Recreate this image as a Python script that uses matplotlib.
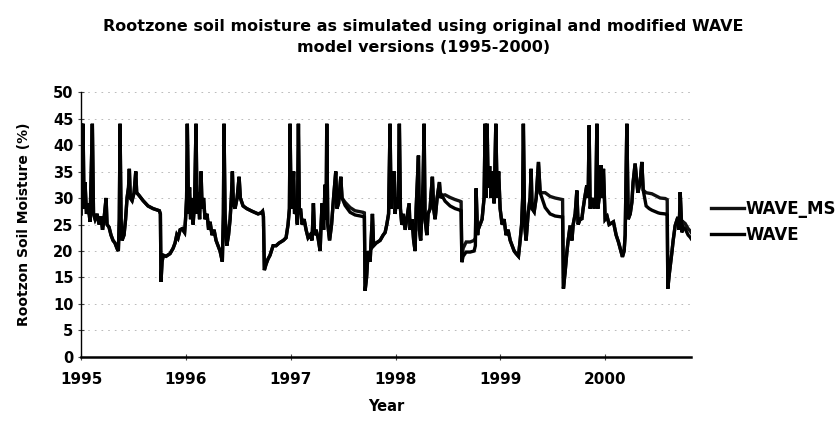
import matplotlib
matplotlib.use("Agg")
import matplotlib.pyplot as plt

# ---- data (decimal years, soil moisture %) ----
# shared stretches (both model versions coincide)
y1995_t = [1995.000, 1995.005, 1995.012, 1995.019, 1995.029, 1995.038, 1995.052, 1995.067, 1995.086, 1995.108,
           1995.119, 1995.134, 1995.153, 1995.172, 1995.191, 1995.205, 1995.219, 1995.239, 1995.248, 1995.267,
           1995.286, 1995.305, 1995.324, 1995.343, 1995.356, 1995.365, 1995.372, 1995.382, 1995.391, 1995.410,
           1995.425, 1995.439, 1995.453, 1995.461, 1995.470, 1995.487, 1995.506, 1995.522, 1995.531, 1995.553,
           1995.592, 1995.639, 1995.687, 1995.747, 1995.757, 1995.763, 1995.773, 1995.785, 1995.811, 1995.849,
           1995.878, 1995.897, 1995.913, 1995.926, 1995.945, 1995.964, 1995.988, 1995.997]
y1995_v = [27, 44, 30, 44, 28, 33, 27, 29, 25.5, 44,
           27, 26, 27, 25, 26.5, 24, 26, 30, 25, 24.5,
           23, 22, 21.5, 20.5, 20, 26, 44, 26, 22, 23,
           26, 30, 32, 35.5, 30, 29.5, 31, 35, 31, 30.5,
           29.5, 28.5, 28, 27.6, 27, 14.2, 18, 19.2, 19, 19.5,
           20.5, 21.5, 23, 22.5, 24, 24.2, 23.5, 26]

y1996_t = [1996.007, 1996.014, 1996.026, 1996.035, 1996.045, 1996.059, 1996.069, 1996.083, 1996.097, 1996.107,
           1996.116, 1996.131, 1996.145, 1996.155, 1996.169, 1996.183, 1996.202, 1996.217, 1996.231, 1996.250,
           1996.269, 1996.288, 1996.307, 1996.326, 1996.348, 1996.358, 1996.364, 1996.374, 1996.390, 1996.407,
           1996.422, 1996.434, 1996.444, 1996.453, 1996.469, 1996.489, 1996.508, 1996.520, 1996.546, 1996.581,
           1996.632, 1996.689, 1996.718, 1996.732, 1996.740, 1996.749, 1996.765, 1996.784, 1996.803, 1996.832,
           1996.861, 1996.889, 1996.930, 1996.956, 1996.975]
y1996_v = [30, 44, 27, 32, 26, 30, 25, 29, 44, 27,
           31, 26, 35, 28, 30, 26, 27, 24, 25.5, 23,
           24, 22, 21, 20, 18, 27, 44, 27, 21, 23,
           26, 30, 35, 29, 28, 30, 34, 30, 28.5, 28,
           27.5, 27, 27.2, 27.5, 26.5, 16.4, 17.5, 18.5, 19.2, 21,
           21, 21.5, 22, 22.5, 25]

y1997_t = [1996.988, 1996.994, 1997.004, 1997.018, 1997.028, 1997.037, 1997.052, 1997.064, 1997.074, 1997.083,
           1997.094, 1997.109, 1997.128, 1997.147, 1997.166, 1997.185, 1997.204, 1997.217, 1997.228, 1997.242,
           1997.261, 1997.281, 1997.290, 1997.300, 1997.314, 1997.328, 1997.338, 1997.344, 1997.354, 1997.371,
           1997.390, 1997.409, 1997.430, 1997.441, 1997.457, 1997.478, 1997.490]
y1997_v = [28, 44, 28, 30, 35, 27, 28, 25, 44, 27,
           28, 25, 26, 24, 22.5, 23, 22, 29, 23, 24,
           22.5, 20, 25, 29, 24, 32.5, 26, 44, 25, 22,
           25, 30, 35, 28, 29, 34, 30]
rec1997_t = [1997.519, 1997.567, 1997.614, 1997.691, 1997.703]
rec1997_ms = [29.2, 28.2, 27.6, 27.3, 27.2]
rec1997_wave = [28.6, 27.3, 26.8, 26.5, 26.4]

y1998_t = [1997.710, 1997.724, 1997.739, 1997.758, 1997.780, 1997.791, 1997.815, 1997.853, 1997.882, 1997.901,
           1997.917, 1997.934, 1997.948, 1997.958, 1997.968, 1997.977, 1997.987, 1997.996, 1998.010, 1998.025,
           1998.037, 1998.047, 1998.060, 1998.073, 1998.092, 1998.111, 1998.130, 1998.139, 1998.158, 1998.173,
           1998.187, 1998.197, 1998.206, 1998.219, 1998.228, 1998.240, 1998.254, 1998.263, 1998.273, 1998.282,
           1998.299, 1998.311, 1998.330, 1998.340, 1998.352, 1998.364, 1998.378, 1998.397, 1998.419, 1998.430,
           1998.442]
y1998_v = [12.5, 15, 20, 18, 27, 21, 21.5, 22, 23, 23.5,
           25, 27, 44, 28, 35, 30, 35, 27, 30, 28,
           44, 28, 25, 27, 24, 26.5, 29, 24, 26, 22,
           20, 28, 32, 38, 24, 22, 28, 33, 44, 26,
           23, 27, 28, 31, 34, 28, 26, 30, 33, 30,
           30.5]
rec1998_t = [1998.473, 1998.521, 1998.569, 1998.616, 1998.626, 1998.633, 1998.645, 1998.674, 1998.712,
             1998.750, 1998.762]
rec1998_ms = [30.6, 30.1, 29.7, 29.4, 29.3, 17.9, 20.5, 21.7, 21.7, 22.0, 22.5]
rec1998_wave = [29.4, 28.5, 28.0, 27.7, 27.6, 17.9, 19.0, 19.8, 19.8, 20.0, 21.0]

y1999_t = [1998.769, 1998.783, 1998.788, 1998.807, 1998.826, 1998.845, 1998.855, 1998.865, 1998.874, 1998.884,
           1998.898, 1998.912, 1998.927, 1998.941, 1998.957, 1998.970, 1998.984, 1998.998, 1999.017, 1999.036,
           1999.055, 1999.074, 1999.094, 1999.113, 1999.132, 1999.151, 1999.173, 1999.189, 1999.203, 1999.213,
           1999.220, 1999.232, 1999.246, 1999.265, 1999.284, 1999.294, 1999.303, 1999.323, 1999.342, 1999.364,
           1999.380]
y1999_v = [31.8, 23, 24, 25, 26, 30, 44, 30, 44, 32,
           36, 30, 35, 29, 44, 30, 35, 28, 25, 26,
           23, 24, 22, 21, 20, 19.5, 19, 22, 25, 30,
           44, 25, 22, 27, 30, 35.5, 28, 27.4, 30, 36.8,
           31]
rec1999_t = [1999.428, 1999.475, 1999.523, 1999.594]
rec1999_ms = [31.0, 30.3, 30.0, 29.7]
rec1999_wave = [28.2, 27.0, 26.6, 26.4]

y2000_t = [1999.602, 1999.618, 1999.635, 1999.647, 1999.666, 1999.683, 1999.695, 1999.714, 1999.730, 1999.742,
           1999.761, 1999.778, 1999.790, 1999.809, 1999.825, 1999.838, 1999.847, 1999.857, 1999.876, 1999.895,
           1999.911, 1999.921, 1999.930, 1999.943, 1999.962, 1999.971, 1999.984, 2000.000, 2000.019, 2000.038,
           2000.079, 2000.105, 2000.127, 2000.143, 2000.165, 2000.181, 2000.191, 2000.207, 2000.220, 2000.239,
           2000.255, 2000.267, 2000.286, 2000.312, 2000.334, 2000.350, 2000.363]
y2000_v = [12.9, 16, 19.8, 22, 24.8, 22, 25, 27, 31.4, 25,
           26, 26.1, 28, 30.5, 32.4, 30, 43.7, 28, 30, 28,
           30, 44, 28, 30, 36.2, 30, 35.5, 26, 26.5, 25,
           25.5, 23, 21.7, 20.5, 18.9, 20, 23, 44, 26, 27,
           29.2, 33, 36.5, 31, 33, 36.8, 31.5]
rec2000_t = [2000.391, 2000.420, 2000.446, 2000.506, 2000.525, 2000.573, 2000.592]
rec2000_ms = [31.0, 30.9, 30.8, 30.2, 30.0, 29.9, 29.7]
rec2000_wave = [28.5, 28.0, 27.7, 27.2, 27.1, 27.0, 26.8]

end_t = [2000.598, 2000.611, 2000.637, 2000.649, 2000.668, 2000.694, 2000.706, 2000.716, 2000.732, 2000.744,
         2000.763, 2000.780, 2000.792, 2000.811, 2000.821]
end_ms = [12.9, 15.5, 19.8, 22, 24.8, 26.4, 24, 31.1, 24, 25.5, 25.2, 24.6, 24.2, 23.8, 23.5]
end_wave = [12.9, 15.5, 19.8, 22, 24.8, 26.4, 24, 31.1, 23.5, 24.5, 24.2, 23.5, 23, 22.6, 22.3]

series_names = ["WAVE_MS", "WAVE"]
x_ticks = [1995, 1996, 1997, 1998, 1999, 2000]
y_ticks = [0, 5, 10, 15, 20, 25, 30, 35, 40, 45, 50]

# ---- assemble the two series ----
ms_t = (y1995_t + y1996_t + y1997_t + rec1997_t + y1998_t + rec1998_t + y1999_t + rec1999_t
        + y2000_t + rec2000_t + end_t)
ms_v = (y1995_v + y1996_v + y1997_v + rec1997_ms + y1998_v + rec1998_ms + y1999_v + rec1999_ms
        + y2000_v + rec2000_ms + end_ms)
wave_t = ms_t
wave_v = (y1995_v + y1996_v + y1997_v + rec1997_wave + y1998_v + rec1998_wave + y1999_v + rec1999_wave
          + y2000_v + rec2000_wave + end_wave)

plt.rcParams['font.family'] = ['DejaVu Sans']
fig = plt.figure(figsize=(8.38, 4.26), dpi=100)
ax = fig.add_axes([0.0967, 0.162, 0.728, 0.622])

for yv in y_ticks[1:]:
    ax.axhline(yv, color='#b0b0b0', lw=0.6, ls=(0, (2, 6)), zorder=0)

l1, = ax.plot(ms_t, ms_v, color='#111111', lw=2.4, solid_joinstyle='miter', zorder=3)
l2, = ax.plot(wave_t, wave_v, color='black', lw=2.4, solid_joinstyle='miter', zorder=3)

ax.set_xlim(1995, 2000.82)
ax.set_ylim(0, 50)
ax.set_xticks(x_ticks)
ax.set_xticklabels([str(v) for v in x_ticks], fontweight='bold', fontsize=11)
ax.set_yticks(y_ticks)
ax.set_yticklabels([str(v) for v in y_ticks], fontweight='bold', fontsize=10.5)
ax.tick_params(axis='both', direction='inout', length=5, width=0.8, color='#444444')
ax.tick_params(axis='x', pad=8)
ax.tick_params(axis='y', pad=3)
for s in ['top', 'right']:
    ax.spines[s].set_visible(False)
ax.spines['left'].set_linewidth(1.0)
ax.spines['bottom'].set_linewidth(1.8)

ax.set_xlabel('Year', fontweight='bold', fontsize=10.5, labelpad=9)
ax.set_ylabel('Rootzon Soil Moisture (%)', fontweight='bold', fontsize=10, labelpad=16)

fig.text(0.505, 0.913, 'Rootzone soil moisture as simulated using original and modified WAVE\nmodel versions (1995-2000)',
         ha='center', va='center', fontweight='bold', fontsize=11.5, linespacing=1.5)

leg = fig.legend([l1, l2], series_names, loc='center left', bbox_to_anchor=(0.83, 0.479),
                 frameon=False, prop={'weight': 'bold', 'size': 12}, handlelength=2.0,
                 handletextpad=0.1, labelspacing=0.5)

fig.savefig('out.png', dpi=100)
